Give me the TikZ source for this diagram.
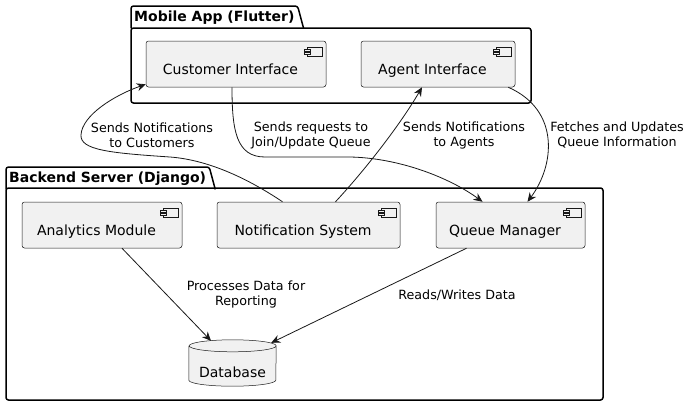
\documentclass[tikz,border=0pt]{standalone}
\usepackage{fontspec}
\setmainfont{DejaVu Sans}
\usetikzlibrary{positioning, arrows.meta}
\definecolor{compfill}{HTML}{F1F1F1}
\definecolor{compline}{HTML}{181818}
\tikzset{
		comp nodes/.style={
			rectangle,
			rounded corners=2.5pt,
			draw=compline,
			fill=compfill,
			line width=0.5pt,
			font=\fontsize{14}{16}\selectfont,
			minimum height=46pt,
			text height=20pt,
			text depth=0pt,
			inner sep=0pt,
			execute at end node={\kern 11pt}
		},
		icon/.style={draw=compline, fill=compfill, line width=0.5pt},
		pkg/.style={draw=black, line width=1.5pt, rounded corners=2.5pt},
		pkg title/.style={
			anchor=north west,
			font=\bfseries\fontsize{14}{16}\selectfont,
			inner xsep=3pt,
			inner ysep=0pt,
			minimum height=22pt
		},
		db/.style={draw=compline, fill=compfill, line width=0.5pt},
		flow/.style={draw=compline, line width=0.8pt, -{Stealth[length=9pt, width=8pt, inset=3pt]}},
		lbl/.style={align=center, font=\fontsize{12.7}{15}\selectfont, inner sep=1pt}
	}
\begin{document}
\begin{tikzpicture}[x=1pt, y=-1pt]
	\useasboundingbox (0,0) rectangle (692,407);
	% packages
	\draw[pkg] (131,28) rectangle (531,103);
	\node[pkg title] (mob) at (131,6) {Mobile App (Flutter)};
	\draw[pkg] (mob.south west) |- (mob.north east) -- ([xshift=6pt]mob.south east);
	\draw[pkg] (6,188) rectangle (603,400);
	\node[pkg title] (back) at (6,167) {Backend Server (Django)};
	\draw[pkg] (back.south west) |- (back.north east) -- ([xshift=6pt]back.south east);
	% components
	\node[comp nodes, minimum width=180pt] (ci) at (236,64) {Customer Interface};
	\node[comp nodes, minimum width=154pt] (ai) at (438,64) {Agent Interface};
	\node[comp nodes, minimum width=160pt] (am) at (102,225) {Analytics Module};
	\node[comp nodes, minimum width=183pt] (ns) at (308.5,225) {Notification System};
	\node[comp nodes, minimum width=149pt] (qm) at (510.5,225) {Queue Manager};
	\foreach \n in {ci,ai,am,ns,qm} {
		\draw[icon] ([shift={(-19,6)}]\n.north east) rectangle ([shift={(-4,15)}]\n.north east);
		\draw[icon] ([shift={(-22,8)}]\n.north east) rectangle ([shift={(-16,10)}]\n.north east);
		\draw[icon] ([shift={(-22,11)}]\n.north east) rectangle ([shift={(-16,13)}]\n.north east);
	}
	% database
	\node[font=\fontsize{14}{16}\selectfont, minimum width=87pt, minimum height=46pt, inner sep=0pt, text height=30pt, text depth=0pt] (db) at (232.5,363) {};
	\draw[db] ([yshift=-6pt]db.north west) -- ([yshift=6pt]db.south west)
		arc[start angle=180, end angle=360, x radius=43.5pt, y radius=6pt]
		-- ([yshift=-6pt]db.north east)
		arc[start angle=0, end angle=180, x radius=43.5pt, y radius=6pt]
		arc[start angle=180, end angle=360, x radius=43.5pt, y radius=6pt];
	\node[font=\fontsize{14}{16}\selectfont, inner sep=0pt, text height=29pt, text depth=0pt] (dbname) at (db) {Database};
	% connectors
	\draw[flow] ([xshift=-26pt]ns.north) .. controls (250,180) and (210,160) .. (170,157)
		.. controls (110,153) and (80,150) .. (81,135)
		.. controls (82,115) and (115,95) .. ([yshift=3pt]ci.south west);
	\draw[flow] ([xshift=-4pt]ci.south) .. controls (232,130) and (236,157) .. (265,157)
		-- (350,157) .. controls (400,158) and (450,178) .. ([xshift=-28pt]qm.north);
	\draw[flow] ([xshift=27pt]ns.north) .. controls (365,170) and (400,125) .. ([xshift=-16pt]ai.south);
	\draw[flow] ([xshift=-7pt]ai.south east) .. controls (560,110) and (555,165) .. ([xshift=17pt]qm.north);
	\draw[flow] ([xshift=20pt]am.south) -- ([shift={(-21.5,1)}]db.north);
	\draw[flow] ([xshift=-44pt]qm.south) -- ([shift={(-5,3)}]db.north east);
	% labels
	\node[lbl] (l1) at (152,135) {Sends Notifications\\to Customers};
	\node[lbl] (l2) at (311,135) {Sends requests to\\Join/Update Queue};
	\node[lbl] (l3) at (464,135) {Sends Notifications\\to Agents};
	\node[lbl] (l4) at (617,135) {Fetches and Updates\\Queue Information};
	\node[lbl] (l5) at (246,294) {Processes Data for\\Reporting};
	\node[lbl] (l6) at (457,295) {Reads/Writes Data};
\end{tikzpicture}
\end{document}
